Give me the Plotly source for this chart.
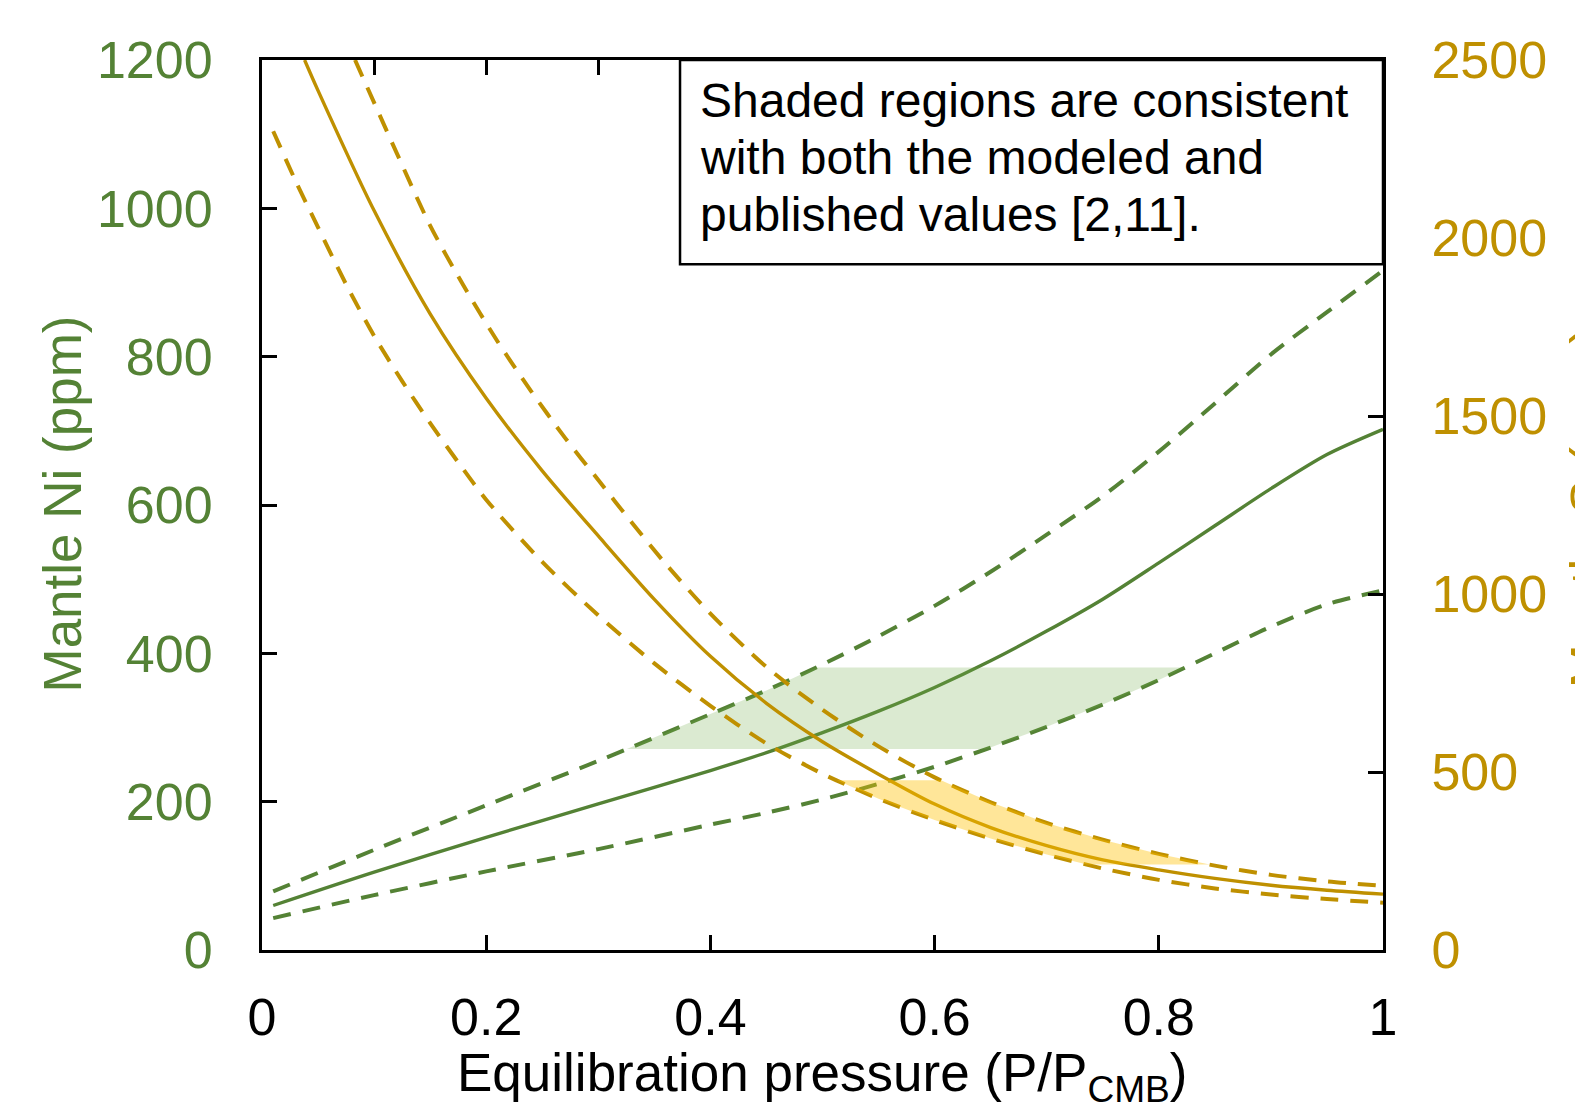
import plotly.graph_objects as go

# ---------------- data ----------------
# Mantle Ni (ppm), left axis
ni_x = [0.01, 0.1, 0.2, 0.3, 0.4, 0.45, 0.5, 0.55, 0.6, 0.65, 0.7, 0.75, 0.8, 0.85, 0.9, 0.95, 1.0]
ni_mid = [60, 105, 152, 197, 242, 266, 293, 322, 354, 390, 430, 473, 522, 572, 622, 668, 702]
ni_high = [79, 135, 195, 255, 318, 350, 385, 423, 464, 510, 560, 612, 672, 737, 803, 860, 916]
ni_low = [43, 74, 106, 136, 169, 185, 203, 224, 247, 273, 301, 331, 364, 400, 436, 466, 485]
ni_published = [271, 381]

# Mantle S (ppm), right axis
s_mid_x = [0.038, 0.05, 0.10, 0.15, 0.20, 0.25, 0.30, 0.35, 0.40, 0.45,
           0.50, 0.55, 0.60, 0.65, 0.70, 0.75, 0.80, 0.85, 0.90, 0.95, 1.0]
s_mid = [2500, 2414, 2077, 1787, 1550, 1346, 1163, 985, 825, 693,
         585, 494, 410, 344, 293, 253, 225, 201, 182, 168, 157]
s_high_x = [0.083, 0.12, 0.15, 0.18, 0.21, 0.24, 0.27, 0.30, 0.33, 0.36, 0.40, 0.45, 0.50,
            0.55, 0.60, 0.65, 0.70, 0.75, 0.80, 0.85, 0.90, 0.95, 1.0]
s_high = [2500, 2240, 2035, 1865, 1710, 1570, 1440, 1320, 1200, 1085, 945, 795, 675,
          572, 485, 415, 357, 310, 270, 237, 211, 193, 180]
s_low_x = [0.01, 0.03, 0.05, 0.075, 0.10, 0.125, 0.15, 0.175, 0.20, 0.25, 0.30, 0.35,
           0.40, 0.45, 0.50, 0.55, 0.60, 0.65, 0.70, 0.75, 0.80, 0.85, 0.90, 0.95, 1.0]
s_low = [2300, 2160, 2030, 1870, 1725, 1598, 1480, 1370, 1265, 1090, 940, 805,
         686, 580, 495, 425, 365, 313, 268, 229, 197, 173, 156, 143, 133]
s_published = [240, 477]

x_ticks = [0, 0.2, 0.4, 0.6, 0.8, 1]
x_ticktext = ["0", "0.2", "0.4", "0.6", "0.8", "1"]
ni_ticks = [0, 200, 400, 600, 800, 1000, 1200]
s_ticks = [0, 500, 1000, 1500, 2000, 2500]

note_lines = ["Shaded regions are consistent",
              "with both the modeled and",
              "published values [2,11]."]

# ---------------- styles ----------------
GREEN = "#548235"
GOLD = "#BF9000"
FONT = "Arial, Liberation Sans, sans-serif"
DASH = "18px,12px"

L, R, T, B = 262, 192, 60, 161
W, H = 1575, 1111
PW, PH = W - L - R, H - T - B
K = 1575 / 1568  # positions below were read on a 1568-wide view


def px_x(px):
    return (px * K - L) / PW


def px_y(py):
    return (H - B - py * K) / PH


def segment(xs, vs, lo, hi):
    """Part of a monotone curve whose values lie in [lo, hi], sorted by x."""
    pts = []
    for i in range(len(xs) - 1):
        x0, v0, x1, v1 = xs[i], vs[i], xs[i + 1], vs[i + 1]
        if lo <= v0 <= hi:
            pts.append((x0, v0))
        for lev in (lo, hi):
            if (v0 - lev) * (v1 - lev) < 0:
                t = (lev - v0) / (v1 - v0)
                pts.append((x0 + t * (x1 - x0), lev))
    if lo <= vs[-1] <= hi:
        pts.append((xs[-1], vs[-1]))
    pts.sort()
    return [p[0] for p in pts], [p[1] for p in pts]


fig = go.Figure()

# helper trace so the top axis is drawn
fig.add_trace(go.Scatter(x=[0, 1], y=[0, 0], xaxis="x2", yaxis="y", mode="lines",
                         line=dict(width=0), opacity=0, hoverinfo="skip", showlegend=False))

# lines: Ni
for vals, dash, w in [(ni_high, DASH, 4), (ni_low, DASH, 4), (ni_mid, "solid", 3.4)]:
    fig.add_trace(go.Scatter(x=ni_x, y=vals, mode="lines", yaxis="y",
                             line=dict(color=GREEN, width=w, dash=dash, shape="spline", smoothing=0.8),
                             showlegend=False, hoverinfo="skip"))
# lines: S
for xs, vals, dash, w in [(s_high_x, s_high, DASH, 4), (s_low_x, s_low, DASH, 4),
                          (s_mid_x, s_mid, "solid", 3.4)]:
    fig.add_trace(go.Scatter(x=xs, y=vals, mode="lines", yaxis="y2",
                             line=dict(color=GOLD, width=w, dash=dash, shape="spline", smoothing=0.8),
                             showlegend=False, hoverinfo="skip"))

# shaded regions (between the dashed bounds, within the published ranges)
lx, ly = segment(ni_x, ni_high, *ni_published)
rx, ry = segment(ni_x, ni_low, *ni_published)
fig.add_trace(go.Scatter(x=lx + rx[::-1], y=ly + ry[::-1], mode="lines", fill="toself",
                         fillcolor="rgba(112,173,71,0.25)", line=dict(width=0), yaxis="y",
                         showlegend=False, hoverinfo="skip"))
lx, ly = segment(s_low_x, s_low, *s_published)
rx, ry = segment(s_high_x, s_high, *s_published)
fig.add_trace(go.Scatter(x=lx + rx[::-1], y=ly + ry[::-1], mode="lines", fill="toself",
                         fillcolor="rgba(255,192,0,0.4)", line=dict(width=0), yaxis="y2",
                         showlegend=False, hoverinfo="skip"))

axis_common = dict(showgrid=False, zeroline=False, showline=True, linecolor="black",
                   linewidth=3, ticks="inside", ticklen=15, tickwidth=3, tickcolor="black",
                   automargin=False)

fig.update_layout(
    width=W, height=H,
    margin=dict(l=L, r=R, t=T, b=B, pad=0, autoexpand=False),
    paper_bgcolor="white", plot_bgcolor="white",
    font=dict(family=FONT, color="black"),
    xaxis=dict(range=[0, 1], tickvals=x_ticks, ticktext=x_ticktext,
               tickfont=dict(size=52, color="black"), ticklabelstandoff=20, **axis_common),
    xaxis2=dict(range=[0, 1], overlaying="x", side="top", dtick=0.1, tick0=0,
                showticklabels=False, **axis_common),
    yaxis=dict(range=[0, 1200], tickvals=ni_ticks,
               tickfont=dict(size=52, color=GREEN), ticklabelstandoff=36, **axis_common),
    yaxis2=dict(range=[0, 2500], tickvals=s_ticks, overlaying="y", side="right",
                tickfont=dict(size=52, color=GOLD), ticklabelstandoff=35, **axis_common),
    showlegend=False,
)

# note box
fig.add_shape(type="rect", xref="paper", yref="paper", x0=px_x(677), x1=1.0,
              y0=px_y(263), y1=1.0, line=dict(color="black", width=2.5),
              fillcolor="white", layer="above")
for i, line in enumerate(note_lines):
    fig.add_annotation(xref="paper", yref="paper", x=px_x(695), y=px_y(100 + 57 * i),
                       xanchor="left", yanchor="middle", showarrow=False, align="left",
                       text=line, font=dict(size=48, color="black", family=FONT))

# axis titles
fig.add_annotation(xref="paper", yref="paper", x=px_x(62), y=px_y(502), textangle=-90,
                   xanchor="center", yanchor="middle", showarrow=False,
                   text="Mantle Ni (ppm)", font=dict(size=53, color=GREEN, family=FONT))
fig.add_annotation(xref="paper", yref="paper", x=px_x(1582), y=px_y(505), textangle=-90,
                   xanchor="center", yanchor="middle", showarrow=False,
                   text="Mantle S (ppm)", font=dict(size=53, color=GOLD, family=FONT))
fig.add_annotation(xref="paper", yref="paper", x=px_x(818), y=px_y(1072),
                   xanchor="center", yanchor="middle", showarrow=False,
                   text="Equilibration pressure (P/P<sub>CMB</sub>)",
                   font=dict(size=53, color="black", family=FONT))

fig.write_html("out.html", config={"displayModeBar": False},
               post_script="document.body.style.margin='0';")
